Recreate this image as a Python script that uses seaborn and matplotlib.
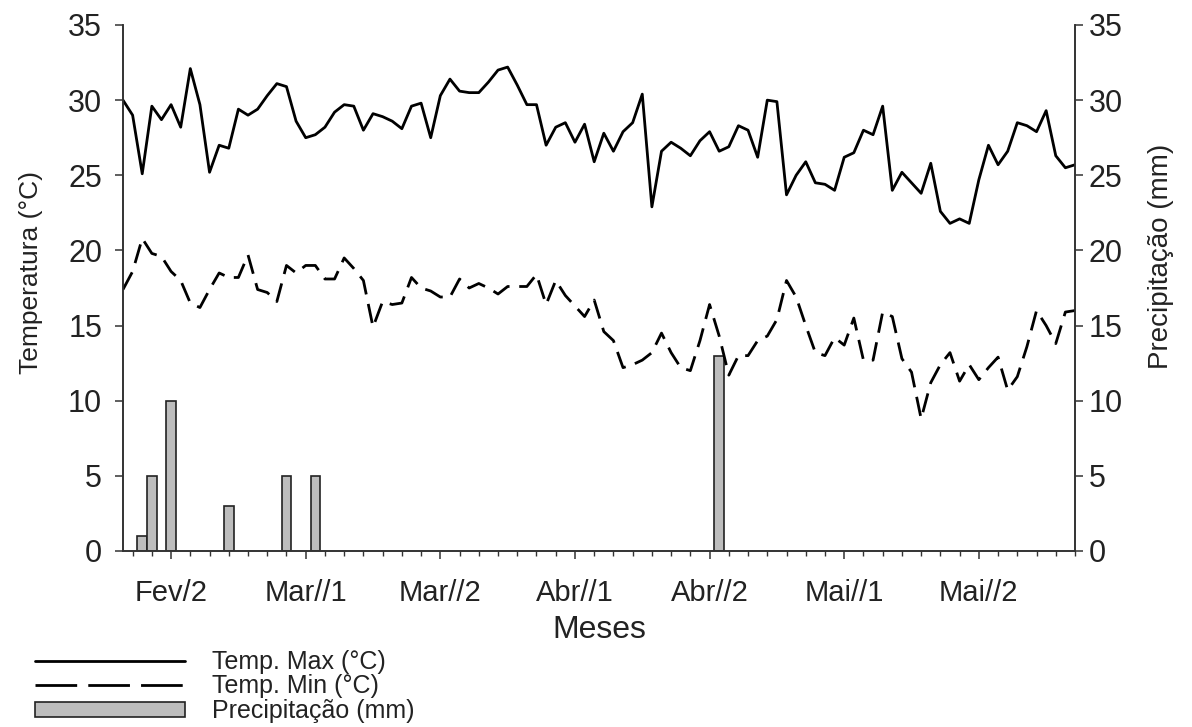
import numpy as np
import matplotlib
matplotlib.use("Agg")
import matplotlib.pyplot as plt
import seaborn as sns
from matplotlib.lines import Line2D
from matplotlib.patches import Patch

# daily series, day 0 .. 99 (from mid Feb to end of May)
temp_max = [30.0, 29.0, 25.1, 29.6, 28.7, 29.7, 28.2, 32.1, 29.7, 25.2,
            27.0, 26.8, 29.4, 29.0, 29.4, 30.3, 31.1, 30.9, 28.6, 27.5,
            27.7, 28.2, 29.2, 29.7, 29.6, 28.0, 29.1, 28.9, 28.6, 28.1,
            29.6, 29.8, 27.5, 30.3, 31.4, 30.6, 30.5, 30.5, 31.2, 32.0,
            32.2, 31.0, 29.7, 29.7, 27.0, 28.2, 28.5, 27.2, 28.4, 25.9,
            27.8, 26.6, 27.9, 28.5, 30.4, 22.9, 26.6, 27.2, 26.8, 26.3,
            27.3, 27.9, 26.6, 26.9, 28.3, 28.0, 26.2, 30.0, 29.9, 23.7,
            25.0, 25.9, 24.5, 24.4, 24.0, 26.2, 26.5, 28.0, 27.7, 29.6,
            24.0, 25.2, 24.5, 23.8, 25.8, 22.6, 21.8, 22.1, 21.8, 24.7,
            27.0, 25.7, 26.6, 28.5, 28.3, 27.9, 29.3, 26.3, 25.5, 25.7]

temp_min = [17.4, 18.6, 20.8, 19.8, 19.6, 18.6, 18.0, 16.5, 16.2, 17.4,
            18.5, 18.2, 18.2, 19.7, 17.4, 17.2, 16.6, 19.0, 18.5, 19.0,
            19.0, 18.1, 18.1, 19.5, 18.8, 18.0, 14.9, 16.6, 16.4, 16.5,
            18.2, 17.5, 17.3, 16.9, 16.9, 18.1, 17.5, 17.8, 17.5, 17.1,
            17.6, 17.6, 17.6, 18.4, 16.4, 18.0, 17.0, 16.3, 15.6, 16.7,
            14.6, 14.0, 12.2, 12.4, 12.7, 13.2, 14.5, 13.2, 12.2, 12.0,
            14.0, 16.4, 14.3, 11.7, 13.0, 13.0, 14.0, 14.3, 15.4, 18.0,
            16.9, 15.0, 13.2, 13.0, 14.2, 13.7, 15.5, 12.7, 12.7, 15.9,
            15.6, 12.8, 11.9, 8.8, 11.2, 12.4, 13.2, 11.3, 12.4, 11.4,
            12.2, 12.9, 10.7, 11.6, 13.6, 16.0, 15.0, 13.8, 15.9, 16.0]

rain_days = [2, 3, 5, 11, 17, 20, 62]
rain_mm = [1, 5, 10, 3, 5, 5, 13]

month_ticks = [5, 19, 33, 47, 61, 75, 89]
month_labels = ["Fev/2", "Mar//1", "Mar//2", "Abr//1", "Abr//2", "Mai//1", "Mai//2"]

days = np.arange(len(temp_max))

sns.set_style("ticks")
plt.rcParams["font.family"] = ["Liberation Sans", "DejaVu Sans"]

fig = plt.figure(figsize=(11.92, 7.27), dpi=100)
ax = fig.add_axes([123 / 1192, 1 - 551 / 727, (1075 - 123) / 1192, (551 - 25) / 727])
ax2 = ax.twinx()

# precipitation bars on the right axis
ax2.bar(rain_days, rain_mm, width=1.0, color="#bdbdbd", edgecolor="#222222", linewidth=1.2)

sns.lineplot(x=days, y=temp_max, ax=ax, color="black", linewidth=2.0)
sns.lineplot(x=days, y=temp_min, ax=ax, color="black", linewidth=2.0)
ax.lines[-1].set_dashes((7, 3.5))

# keep lines above the bars
ax.set_zorder(ax2.get_zorder() + 1)
ax.patch.set_visible(False)

for a in (ax, ax2):
    a.set_ylim(0, 35)
    a.set_yticks(np.arange(0, 36, 5))
    a.set_xlim(0, 99)
    a.spines["top"].set_visible(False)
    for s in a.spines.values():
        s.set_color("#333333")
        s.set_linewidth(1.2)

ax.set_xticks(month_ticks)
ax.set_xticklabels(month_labels)
ax.set_xticks(np.arange(1, 100, 2), minor=True)
ax.tick_params(axis="x", which="major", length=6, width=1.1, pad=14,
               labelsize=21, colors="#333333", labelcolor="#222222")
ax.tick_params(axis="x", which="minor", length=3.5, width=1.0, colors="#333333")
ax.tick_params(axis="y", length=6, width=1.1, pad=9, labelsize=22,
               colors="#333333", labelcolor="#222222")
ax2.tick_params(axis="y", length=6, width=1.1, pad=4, labelsize=22,
                colors="#333333", labelcolor="#222222")

ax.set_xlabel("Meses", fontsize=23, color="#222222", labelpad=6)
ax.set_ylabel("Temperatura (°C)", fontsize=19, color="#222222")
ax2.set_ylabel("Precipitação (mm)", fontsize=20, color="#222222")
ax.yaxis.set_label_coords(-0.084, 0.53)
ax2.yaxis.set_label_coords(1.077, 0.56)

handles = [Line2D([], [], color="black", linewidth=2.0),
           Line2D([], [], color="black", linewidth=2.0, dashes=(15, 4)),
           Patch(facecolor="#bdbdbd", edgecolor="#222222", linewidth=1.2)]
fig.legend(handles, ["Temp. Max (°C)", "Temp. Min (°C)", "Precipitação (mm)"],
           loc="upper left", bbox_to_anchor=(35 / 1192, 1 - 650 / 727),
           frameon=False, fontsize=18, handlelength=6.0, handleheight=0.55,
           handletextpad=1.08, labelspacing=0.02, borderpad=0, borderaxespad=0,
           labelcolor="#222222")

fig.savefig("out.png", dpi=100)
